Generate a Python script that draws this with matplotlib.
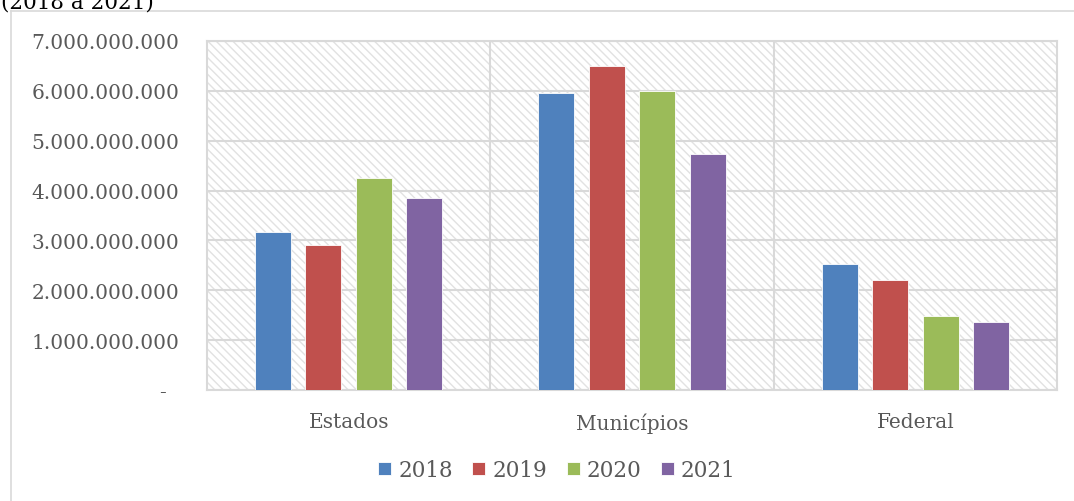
import matplotlib
matplotlib.use("Agg")
import matplotlib.pyplot as plt
from matplotlib.patches import Rectangle
from matplotlib.lines import Line2D
import numpy as np

categories = ["Estados", "Municípios", "Federal"]
years = ["2018", "2019", "2020", "2021"]
values_2018 = [3.17e9, 5.96e9, 2.53e9]
values_2019 = [2.91e9, 6.50e9, 2.21e9]
values_2020 = [4.25e9, 6.00e9, 1.48e9]
values_2021 = [3.85e9, 4.73e9, 1.36e9]
series = [values_2018, values_2019, values_2020, values_2021]
colors = ["#4F81BD", "#C0504D", "#9BBB59", "#8064A2"]
yticks = [0, 1e9, 2e9, 3e9, 4e9, 5e9, 6e9, 7e9]
ytick_labels = ["-  ", "1.000.000.000", "2.000.000.000", "3.000.000.000",
                "4.000.000.000", "5.000.000.000", "6.000.000.000", "7.000.000.000"]

FONT = "DejaVu Serif"
plt.rcParams["font.family"] = FONT
plt.rcParams["hatch.color"] = "#E2E2E2"
plt.rcParams["hatch.linewidth"] = 1.0

W, H = 1074, 502
fig = plt.figure(figsize=(W / 100, H / 100), dpi=100)
ax = fig.add_axes([207 / W, 1 - 391 / H, (1057 - 207) / W, (391 - 42) / H])

# hatched background
ax.add_patch(Rectangle((0, 0), 1, 1, transform=ax.transAxes, facecolor="white",
                       edgecolor="#E2E2E2", linewidth=0, hatch="\\\\\\\\", zorder=0))

x = np.arange(len(categories))
bw = 0.127
step = 0.178
for i, (vals, c) in enumerate(zip(series, colors)):
    ax.bar(x + (i - 1.5) * step, vals, width=bw, color=c, edgecolor="white",
           linewidth=0.6, label=years[i], zorder=3)

ax.set_xlim(-0.5, len(categories) - 0.5)
ax.set_ylim(0, 7e9)
ax.set_yticks(yticks)
ax.set_yticklabels(ytick_labels, fontsize=14.5, color="#595959")
ax.set_xticks(x)
ax.set_xticklabels(categories, fontsize=14.5, color="#595959")
ax.tick_params(axis="both", length=0)
ax.tick_params(axis="y", pad=20)
ax.tick_params(axis="x", pad=16)
ax.grid(axis="y", color="#D9D9D9", linewidth=1.5, zorder=1)
for xv in [0.5, 1.5]:
    ax.axvline(xv, color="#D9D9D9", linewidth=1.5, zorder=1)
for s in ax.spines.values():
    s.set_color("#D9D9D9")
    s.set_linewidth(1.5)

# outer chart border (left and top visible)
fig.add_artist(Line2D([11 / W, 11 / W], [0, 1 - 12 / H], transform=fig.transFigure,
                      color="#D9D9D9", linewidth=1.2))
fig.add_artist(Line2D([11 / W, 1], [1 - 12 / H, 1 - 12 / H], transform=fig.transFigure,
                      color="#D9D9D9", linewidth=1.2))

# cut-off title
fig.text(1 / W, 1 - 8 / H, "(2018 a 2021)", fontsize=15.5, color="black",
         ha="left", va="baseline")

leg = fig.legend(loc="center", bbox_to_anchor=(557 / W, 1 - 471 / H), ncol=4, frameon=False,
                 fontsize=15.5, handlelength=0.6, handleheight=0.6, handletextpad=0.33,
                 columnspacing=0.9)
for t in leg.get_texts():
    t.set_color("#595959")

fig.savefig("out.png", dpi=100)
